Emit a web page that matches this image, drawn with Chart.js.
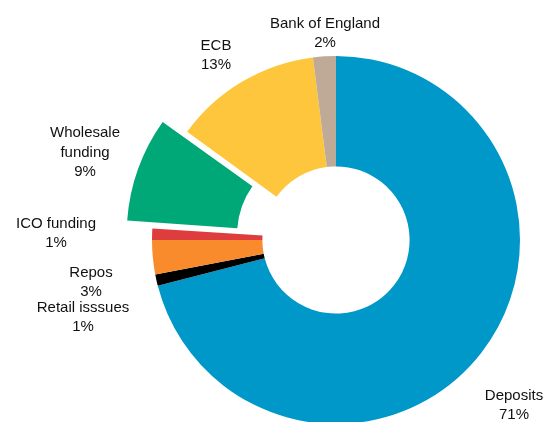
<!DOCTYPE html>
<html>
<head>
<meta charset="utf-8">
<script src="https://cdn.jsdelivr.net/npm/chart.js@4/dist/chart.umd.min.js"></script>
<style>
  html, body { margin: 0; padding: 0; background: #fff; overflow: hidden; }
  #clip { width: 546px; height: 422px; position: relative; overflow: hidden; }
  #wrap { width: 600px; height: 500px; position: absolute; left: 0; top: 0; }
</style>
</head>
<body>
<div id="clip"><div id="wrap"><canvas id="myChart"></canvas></div></div>
<script>
// funding sources, clockwise from 12 o'clock
var categories = ["Deposits", "Retail isssues", "Repos", "ICO funding", "Wholesale funding", "ECB", "Bank of England"];
var shares = [71, 1, 3, 1, 9, 13, 2];
var colours = ["#0098C9", "#000000", "#F98B2D", "#DE3D3D", "#00A878", "#FEC63D", "#BFAA97"];
// chart.js draws offset/4 as a shift, so 72 pulls the slice out ~26px
var exploded = [0, 0, 0, 0, 72, 0, 0];

// label text lines and where they sit
var labelLines = [
    ["Deposits", "71%"],
    ["Retail isssues", "1%"],
    ["Repos", "3%"],
    ["ICO funding", "1%"],
    ["Wholesale", "funding", "9%"],
    ["ECB", "13%"],
    ["Bank of England", "2%"]
];
var labelAt = [[514, 396], [83, 308], [91, 273], [56, 224], [85, 133], [216, 46], [325, 24]];

var sliceLabels = {
    id: 'sliceLabels',
    afterDraw: function(chart) {
        var ctx = chart.ctx;
        ctx.save();
        ctx.fillStyle = "#111";
        ctx.font = "15px 'Liberation Sans', Arial, sans-serif";
        ctx.textAlign = "center";
        ctx.textBaseline = "middle";
        labelLines.forEach(function(lines, i) {
            var step = lines.length > 2 ? 19.5 : 18.5;
            lines.forEach(function(t, j) {
                ctx.fillText(t, labelAt[i][0], labelAt[i][1] + j * step);
            });
        });
        ctx.restore();
    }
};

window.onload = function() {
    var ctx = document.getElementById("myChart").getContext("2d");
    new Chart(ctx, {
        type: 'doughnut',
        data: {
            labels: categories,
            datasets: [{
                data: shares,
                backgroundColor: colours,
                borderWidth: 0,
                offset: exploded,
                hoverOffset: 0
            }]
        },
        options: {
            responsive: true,
            maintainAspectRatio: false,
            animation: false,
            cutout: '40%',
            // area 440x440 centred on (336,240); minus 72 for the offset gives r = 184
            layout: { padding: { left: 116, right: 44, top: 20, bottom: 40 } },
            plugins: {
                legend: { display: false },
                tooltip: { enabled: false }
            }
        },
        plugins: [sliceLabels]
    });
};
</script>
</body>
</html>
